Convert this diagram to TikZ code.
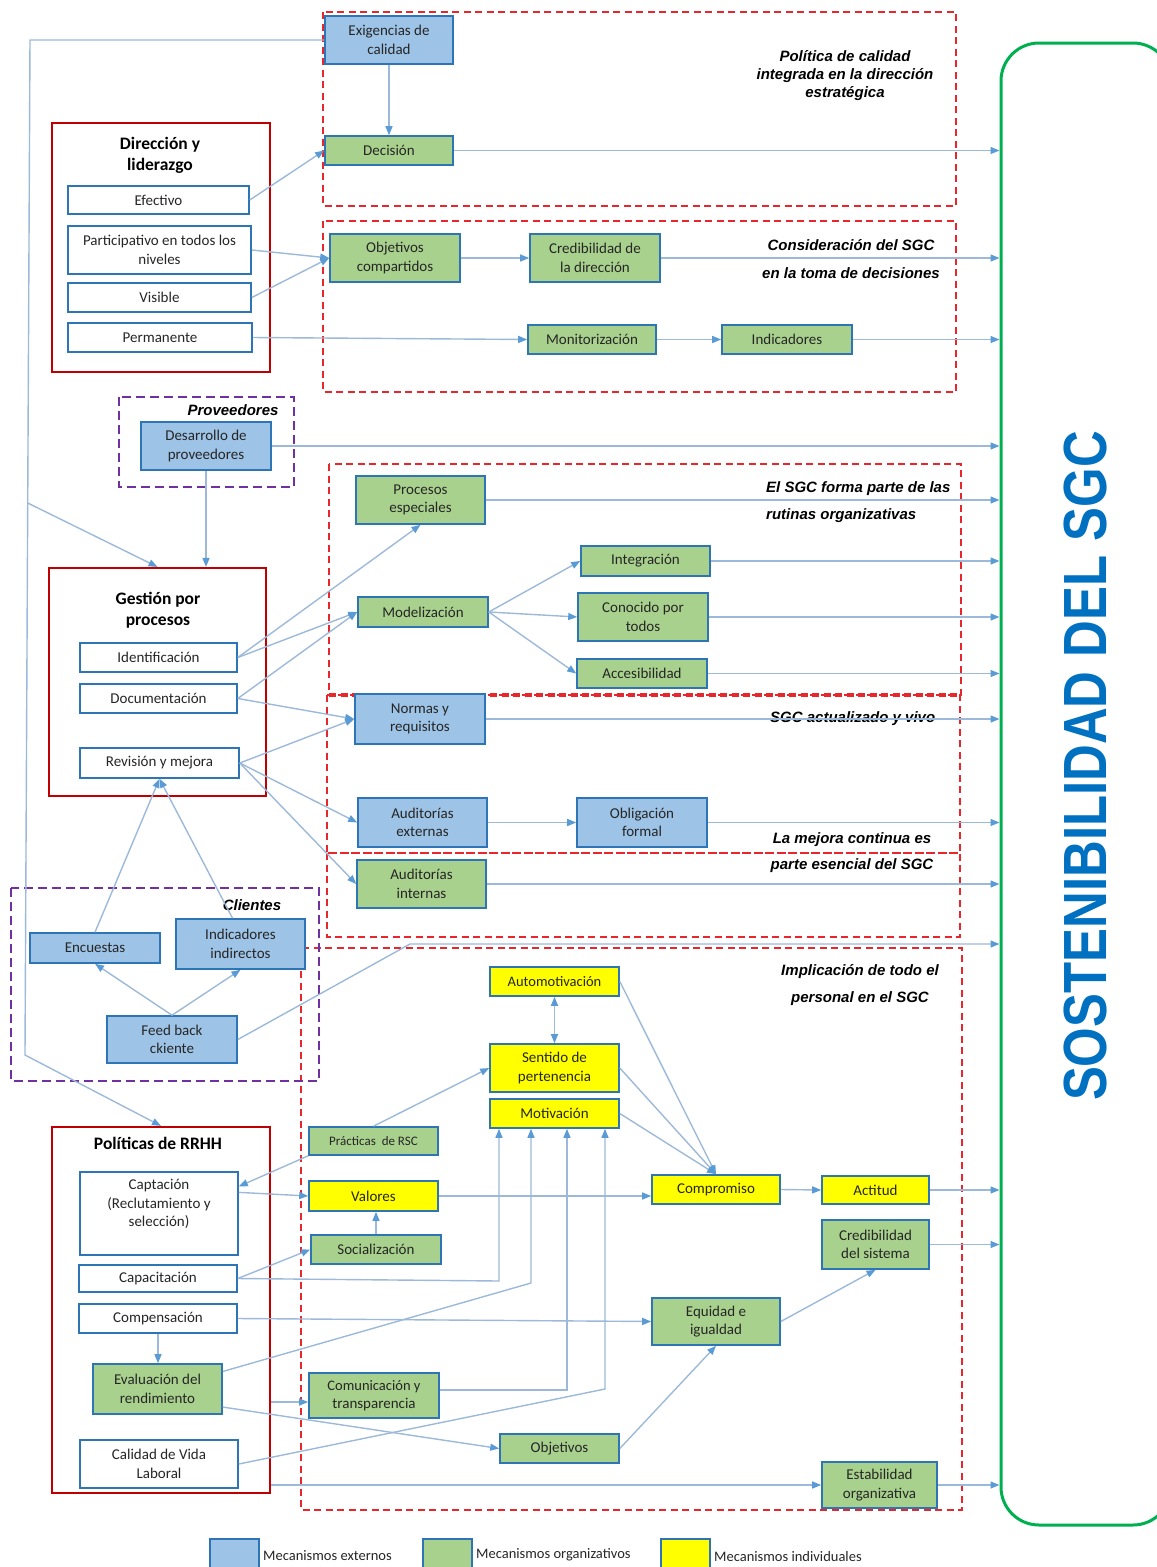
\documentclass[tikz,border=0pt]{standalone}
\usepackage{fontspec}
\setmainfont{Carlito}
\newfontfamily\arialf{Liberation Sans}
\usetikzlibrary{arrows.meta,calc}
\definecolor{bfill}{HTML}{9DC3E6}
\definecolor{gfill}{HTML}{A9D18E}
\definecolor{yfill}{HTML}{FFFF00}
\definecolor{bord}{HTML}{2E75B6}
\definecolor{redsol}{HTML}{C00000}
\definecolor{reddash}{HTML}{E8262B}
\definecolor{purp}{HTML}{7030A0}
\definecolor{lnc}{HTML}{9DB9D9}
\definecolor{arc}{HTML}{5B9BD5}
\definecolor{sgcgreen}{HTML}{00B050}
\definecolor{ttl}{HTML}{0070C0}
\newcommand{\Bx}[7]{\node[#2, minimum width={#5-#3}, minimum height={#6-#4}] (#1) at ({(#3+#5)/2},{(#4+#6)/2}) {#7};}
\begin{document}
\begin{tikzpicture}[x=1pt,y=-1pt,
  bx/.style={draw=bord, line width=1.6pt, inner sep=0pt, align=center, text=black!85, font=\fontsize{15}{18.5}\selectfont},
  bl/.style={bx, fill=bfill},
  gr/.style={bx, fill=gfill},
  ye/.style={bx, fill=yfill},
  wh/.style={bx, fill=white},
  redbox/.style={draw=redsol, line width=2.2pt, inner sep=0pt},
  hdr/.style={align=center, inner sep=0pt, font=\bfseries\fontsize{17.5}{21}\selectfont},
  lab/.style={inner sep=0pt, align=center, font=\arialf\bfseries\itshape\fontsize{15}{18}\selectfont},
  rdash/.style={draw=reddash, line width=2pt, dash pattern=on 7pt off 4.5pt},
  pdash/.style={draw=purp, line width=2.8pt, dash pattern=on 9pt off 5pt},
  conn/.style={draw=lnc, line width=1.4pt},
  arr/.style={conn, -{Triangle[length=9pt,width=7pt,color=arc]}},
  darr/.style={conn, {Triangle[length=9pt,width=7pt,color=arc]}-{Triangle[length=9pt,width=7pt,color=arc]}}
]
\useasboundingbox (0,0) rectangle (1157,1567);

% ---------- group frames ----------
\draw[rdash] (323,12) rectangle (956,206);
\draw[rdash] (323,221) rectangle (956,392);
\draw[rdash] (329,464) rectangle (961,695);
\draw[rdash] (327,695) rectangle (960,853);
\draw[rdash] (327,853) rectangle (960,937);
\draw[rdash, line width=4pt] (329,695) -- (960,695);
\draw[rdash] (301,948) rectangle (962,1510);
\draw[pdash] (119,397) rectangle (294,487);
\draw[pdash] (11,888) rectangle (319,1081);

% ---------- containers ----------
\Bx{DIR}{redbox}{52}{123}{270}{372}{}
\Bx{GES}{redbox}{49}{568}{266}{796}{}
\Bx{POL}{redbox}{52}{1127}{270}{1493}{}
\node[hdr] (DIRh) at (160,155) {Dirección y\\liderazgo};
\node[hdr] (GESh) at (158,610) {Gestión por\\procesos};
\node[hdr] (POLh) at (158,1143) {Políticas de RRHH};

% ---------- SGC box ----------
\begin{scope}
\clip (0,0) rectangle (1157,1567);
\node[draw=sgcgreen, line width=3pt, rounded corners=38pt, minimum width=170, minimum height=1482, inner sep=0pt] (SGC) at (1086,784) {};
\node[bl, minimum width=49, minimum height=40, anchor=north west] (LG1) at (209,1538) {};
\node[gr, minimum width=49, minimum height=40, anchor=north west] (LG2) at (422,1538) {};
\node[ye, minimum width=49, minimum height=40, anchor=north west] (LG3) at (660,1538) {};
\end{scope}
\node[rotate=90, text=ttl, inner sep=0pt, font=\arialf\bfseries\fontsize{61}{61}\selectfont] (TTL) at (1085,766) {\scalebox{0.834}[1]{SOSTENIBILIDAD DEL SGC}};
\node[anchor=west, inner sep=0pt, text=black!85, font=\fontsize{14.5}{16}\selectfont] (LT1) at (263,1556) {Mecanismos externos};
\node[anchor=west, inner sep=0pt, text=black!85, font=\fontsize{14.5}{16}\selectfont] (LT2) at (476,1555) {Mecanismos organizativos};
\node[anchor=west, inner sep=0pt, text=black!85, font=\fontsize{14.5}{16}\selectfont] (LT3) at (714,1556) {Mecanismos individuales};

% ---------- labels ----------
\node[lab] (L1) at (845,76) {Política de calidad\\integrada en la dirección\\estratégica};
\node[lab] (L2a) at (851,245) {Consideración del SGC};
\node[lab] (L2b) at (851,273) {en la toma de decisiones};
\node[lab, anchor=west] (L3a) at (766,489) {El SGC forma parte de las};
\node[lab, anchor=west] (L3b) at (766,516) {rutinas organizativas};
\node[lab, anchor=west] (L4) at (770,719) {SGC actualizado y vivo};
\node[lab] (L5a) at (852,840) {La mejora continua es};
\node[lab] (L5b) at (852,866) {parte esencial del SGC};
\node[lab] (L6a) at (860,972) {Implicación de todo el};
\node[lab] (L6b) at (860,999) {personal en el SGC};
\node[lab] (L7) at (233,410) {Proveedores};
\node[lab] (L8) at (252,905) {Clientes};

% ---------- boxes ----------
\Bx{EXI}{bl}{325}{16}{453}{64}{Exigencias de\\calidad}
\Bx{DEC}{gr}{325}{136}{453}{165}{Decisión}
\Bx{EFE}{wh}{68}{186}{249}{214}{Efectivo}
\Bx{PAR}{wh}{68}{226}{251}{274}{Participativo en todos los\\niveles}
\Bx{VIS}{wh}{68}{283}{251}{312}{Visible}
\Bx{PERM}{wh}{68}{323}{252}{352}{Permanente}
\Bx{OBC}{gr}{330}{234}{460}{282}{Objetivos\\compartidos}
\Bx{CRD}{gr}{530}{234}{660}{282}{Credibilidad de\\la dirección}
\Bx{MON}{gr}{528}{325}{656}{354}{Monitorización}
\Bx{IND}{gr}{722}{325}{852}{354}{Indicadores}
\Bx{DPR}{bl}{141}{422}{271}{470}{Desarrollo de\\proveedores}
\Bx{PES}{gr}{356}{476}{485}{524}{Procesos\\especiales}
\Bx{MOD}{gr}{358}{597}{488}{627}{Modelización}
\Bx{INT}{gr}{581}{546}{710}{576}{Integración}
\Bx{CON}{gr}{578}{593}{708}{641}{Conocido por\\todos}
\Bx{ACC}{gr}{577}{659}{707}{688}{Accesibilidad}
\Bx{IDE}{wh}{80}{643}{237}{672}{Identificación}
\Bx{DOC}{wh}{80}{684}{237}{713}{Documentación}
\Bx{REV}{wh}{80}{748}{239}{778}{Revisión y mejora}
\Bx{NOR}{bl}{355}{694}{485}{744}{Normas y\\requisitos}
\Bx{AEX}{bl}{358}{798}{487}{847}{Auditorías\\externas}
\Bx{OBF}{bl}{577}{798}{707}{847}{Obligación\\formal}
\Bx{AIN}{gr}{357}{860}{486}{908}{Auditorías\\internas}
\Bx{ENC}{bl}{30}{933}{160}{963}{Encuestas}
\Bx{IIN}{bl}{176}{919}{305}{969}{Indicadores\\indirectos}
\Bx{FBK}{bl}{107}{1016}{237}{1063}{Feed back\\ckiente}
\Bx{AUT}{ye}{490}{967}{619}{996}{\fontsize{14.5}{17}\selectfont Automotivación}
\Bx{SEN}{ye}{490}{1044}{619}{1092}{Sentido de\\pertenencia}
\Bx{MOT}{ye}{490}{1099}{619}{1128}{Motivación}
\Bx{RSC}{gr}{309}{1127}{438}{1155}{\fontsize{13}{15}\selectfont Prácticas\ \ de RSC}
\Bx{VAL}{ye}{309}{1181}{438}{1211}{Valores}
\Bx{SOC}{gr}{311}{1235}{441}{1264}{Socialización}
\Bx{CMP}{ye}{652}{1175}{780}{1204}{Compromiso}
\Bx{ACT}{ye}{822}{1176}{929}{1204}{Actitud}
\Bx{CSI}{gr}{822}{1220}{929}{1269}{Credibilidad\\del sistema}
\Bx{EQU}{gr}{652}{1298}{780}{1345}{Equidad e\\igualdad}
\Bx{COM}{gr}{309}{1373}{439}{1418}{\fontsize{14.5}{18}\selectfont Comunicación y\\transparencia}
\Bx{OBJ}{gr}{500}{1434}{619}{1463}{Objetivos}
\Bx{EST}{gr}{822}{1462}{937}{1508}{Estabilidad\\organizativa}
\Bx{CAP}{wh}{80}{1172}{238}{1255}{Captación\\(Reclutamiento y\\selección)\\[2pt]\mbox{}}
\Bx{CPC}{wh}{79}{1265}{237}{1292}{Capacitación}
\Bx{CMPN}{wh}{79}{1304}{237}{1333}{Compensación}
\Bx{EVA}{gr}{93}{1364}{222}{1414}{Evaluación del\\rendimiento}
\Bx{CVL}{wh}{80}{1440}{238}{1488}{Calidad de Vida\\Laboral}

% ---------- helper coordinates ----------
\coordinate (LA) at (30,40);
\coordinate (LB) at (25,1055);
\coordinate (LC) at (27.7,503);
\coordinate (FB1) at (410,944);
\coordinate (K1) at (499,1281);
\coordinate (K2) at (531,1283);
\coordinate (K3) at (567,1390);
\coordinate (K4) at (605,1389);

% ---------- connectors ----------
\draw[arr] (EXI.south) -- (DEC.north);
\draw[arr] (EXI.west) -- (LA) -- (LB) -- (POL.north);
\draw[arr] (LC) -- (GES.north);
\draw[arr] (EFE.east) -- (DEC.west);
\draw[arr] (PAR.east) -- (OBC.west);
\draw[arr] (VIS.east) -- (OBC.west);
\draw[arr] (PERM.east) -- (MON.west);
\draw[arr] (OBC.east) -- (CRD.west);
\draw[arr] (MON.east) -- (IND.west);
\draw[arr] (DPR.south) -- (DPR.south |- GES.north);
\draw[arr] (IDE.east) -- (PES.south);
\draw[arr] (IDE.east) -- (MOD.west);
\draw[arr] (DOC.east) -- (MOD.west);
\draw[arr] (DOC.east) -- (NOR.west);
\draw[arr] (REV.east) -- (NOR.west);
\draw[arr] (REV.east) -- (AEX.west);
\draw[arr] (REV.east) -- (AIN.west);
\draw[arr] (MOD.east) -- (INT.west);
\draw[arr] (MOD.east) -- (CON.west);
\draw[arr] (MOD.east) -- (ACC.west);
\draw[arr] (AEX.east) -- (OBF.west);
\draw[arr] (ENC.north) -- (REV.south);
\draw[arr] ([xshift=-8pt]IIN.north) -- (REV.south);
\draw[arr] (FBK.north) -- (ENC.south);
\draw[arr] (FBK.north) -- (IIN.south);
% to SGC
\draw[arr] (DEC.east) -- (DEC.east -| SGC.west);
\draw[arr] (CRD.east) -- (CRD.east -| SGC.west);
\draw[arr] (IND.east) -- (IND.east -| SGC.west);
\draw[arr] (DPR.east) -- (DPR.east -| SGC.west);
\draw[arr] (PES.east) -- (PES.east -| SGC.west);
\draw[arr] (INT.east) -- (INT.east -| SGC.west);
\draw[arr] (CON.east) -- (CON.east -| SGC.west);
\draw[arr] (ACC.east) -- (ACC.east -| SGC.west);
\draw[arr] (NOR.east) -- (NOR.east -| SGC.west);
\draw[arr] (OBF.east) -- (OBF.east -| SGC.west);
\draw[arr] (AIN.east) -- (AIN.east -| SGC.west);
\draw[arr] (FBK.east) -- (FB1) -- (FB1 -| SGC.west);
\draw[arr] (ACT.east) -- (ACT.east -| SGC.west);
\draw[arr] (CSI.east) -- (CSI.east -| SGC.west);
\draw[arr] (EST.east) -- (EST.east -| SGC.west);
% personnel
\draw[darr] (AUT.south) -- (SEN.north);
\draw[arr] (AUT.east) -- (CMP.north);
\draw[arr] (SEN.east) -- (CMP.north);
\draw[arr] (MOT.east) -- (CMP.north);
\draw[arr] (CMP.east) -- (ACT.west);
\draw[arr] (RSC.north) -- (SEN.west);
\draw[arr] (RSC.south west) -- ($(CAP.north east)!0.18!(CAP.south east)$);
\draw[arr] ($(CAP.north east)!0.25!(CAP.south east)$) -- (VAL.west);
\draw[arr] (SOC.north) -- (SOC.north |- VAL.south);
\draw[arr] (VAL.east) -- (VAL.east -| CMP.west);
\draw[arr] (CPC.east) -- (SOC.west);
\draw[arr] (CPC.east) -- (K1) -- (K1 |- MOT.south);
\draw[arr] ($(EVA.north east)!0.16!(EVA.south east)$) -- (K2) -- (K2 |- MOT.south);
\draw[arr] (COM.east |- K3) -- (K3) -- (K3 |- MOT.south);
\draw[arr] (CVL.east) -- (K4) -- (K4 |- MOT.south);
\draw[arr] (CMPN.east) -- (EQU.west);
\draw[arr] (CMPN.south) -- (CMPN.south |- EVA.north);
\draw[arr] (POL.east |- {$(COM.north west)!0.64!(COM.south west)$}) -- ($(COM.north west)!0.64!(COM.south west)$);
\draw[arr] ($(EVA.north east)!0.85!(EVA.south east)$) -- (OBJ.west);
\draw[arr] (OBJ.east) -- (EQU.south);
\draw[arr] (EQU.east) -- (CSI.south);
\draw[arr] (POL.east |- EST.west) -- (EST.west);
\end{tikzpicture}
\end{document}
